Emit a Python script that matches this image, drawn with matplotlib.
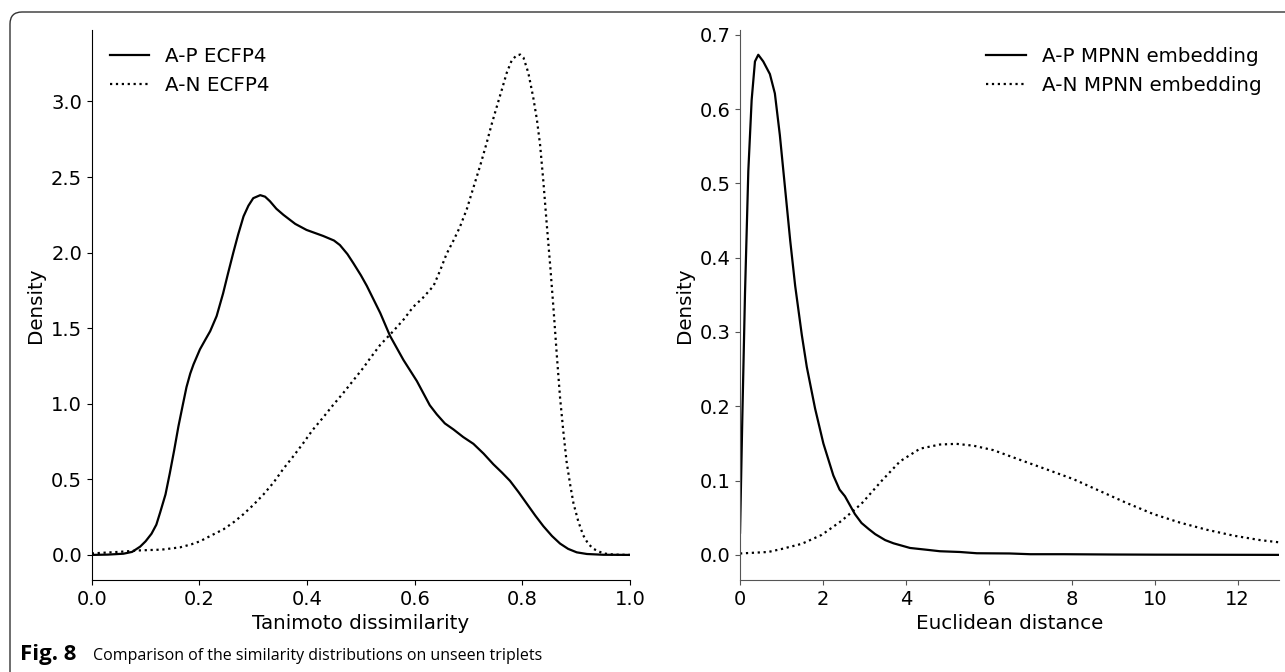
import numpy as np
import matplotlib
matplotlib.use('Agg')
import matplotlib.pyplot as plt
from matplotlib.patches import FancyBboxPatch

# Valores
# Panel izquierdo: disimilitud de Tanimoto (ECFP4)
tanimoto_ap_x = [0.0, 0.03, 0.059, 0.075, 0.09, 0.1, 0.111, 0.12, 0.127, 0.137, 0.145, 0.153,
                 0.161, 0.169, 0.176, 0.183, 0.189, 0.201, 0.212, 0.22, 0.232, 0.244, 0.253,
                 0.263, 0.272, 0.282, 0.291, 0.3, 0.313, 0.322, 0.331, 0.343, 0.356, 0.378,
                 0.399, 0.43, 0.45, 0.461, 0.475, 0.486, 0.5, 0.511, 0.536, 0.554, 0.579,
                 0.604, 0.628, 0.641, 0.656, 0.672, 0.69, 0.709, 0.728, 0.746, 0.762, 0.777,
                 0.793, 0.808, 0.824, 0.839, 0.855, 0.87, 0.885, 0.901, 0.92, 0.95, 1.0]
tanimoto_ap_y = [0.0, 0.002, 0.008, 0.02, 0.055, 0.09, 0.14, 0.2, 0.28, 0.4, 0.54, 0.69,
                 0.85, 0.99, 1.11, 1.2, 1.26, 1.36, 1.43, 1.48, 1.58, 1.73, 1.86,
                 2.0, 2.12, 2.24, 2.31, 2.36, 2.38, 2.37, 2.34, 2.29, 2.25, 2.19,
                 2.15, 2.11, 2.08, 2.05, 1.99, 1.93, 1.85, 1.78, 1.6, 1.45, 1.29,
                 1.15, 0.99, 0.93, 0.87, 0.83, 0.78, 0.735, 0.67, 0.6, 0.545, 0.49,
                 0.415, 0.34, 0.26, 0.19, 0.125, 0.075, 0.04, 0.017, 0.006, 0.001, 0.0]

tanimoto_an_x = [0.0, 0.05, 0.09, 0.13, 0.164, 0.185, 0.201, 0.22, 0.245, 0.265, 0.282, 0.3,
                 0.319, 0.338, 0.356, 0.375, 0.393, 0.41, 0.43, 0.448, 0.467, 0.486, 0.505,
                 0.517, 0.536, 0.56, 0.58, 0.597, 0.615, 0.635, 0.647, 0.659, 0.672, 0.684,
                 0.697, 0.709, 0.722, 0.734, 0.743, 0.752, 0.762, 0.771, 0.78, 0.789, 0.796,
                 0.802, 0.811, 0.82, 0.827, 0.833, 0.839, 0.845, 0.852, 0.858, 0.864, 0.87,
                 0.876, 0.882, 0.889, 0.895, 0.904, 0.913, 0.922, 0.932, 0.95, 0.97, 1.0]
tanimoto_an_y = [0.01, 0.02, 0.03, 0.035, 0.05, 0.07, 0.09, 0.125, 0.17, 0.22, 0.27, 0.33,
                 0.4, 0.48, 0.57, 0.655, 0.74, 0.825, 0.91, 0.99, 1.07, 1.155, 1.24,
                 1.3, 1.39, 1.48, 1.56, 1.64, 1.7, 1.78, 1.88, 1.99, 2.08, 2.17,
                 2.29, 2.43, 2.58, 2.73, 2.85, 2.96, 3.08, 3.19, 3.27, 3.305, 3.31,
                 3.29, 3.19, 3.03, 2.88, 2.71, 2.47, 2.2, 1.9, 1.62, 1.32, 1.04,
                 0.82, 0.62, 0.46, 0.34, 0.22, 0.13, 0.075, 0.04, 0.01, 0.002, 0.0]

# Panel derecho: distancia euclidea (MPNN)
euclid_ap_x = [0.0, 0.056, 0.12, 0.2, 0.28, 0.36, 0.44, 0.56, 0.72, 0.84, 0.96, 1.085, 1.21,
               1.33, 1.49, 1.61, 1.81, 2.01, 2.25, 2.4, 2.53, 2.77, 2.93, 3.1, 3.26, 3.5,
               3.7, 4.1, 4.5, 4.82, 5.3, 5.71, 6.5, 7.0, 7.8, 9.0, 10.0, 11.0, 12.0, 13.0]
euclid_ap_y = [0.03, 0.187, 0.352, 0.517, 0.612, 0.664, 0.673, 0.664, 0.647, 0.621, 0.565,
               0.494, 0.423, 0.362, 0.296, 0.253, 0.197, 0.15, 0.107, 0.088, 0.079, 0.055,
               0.043, 0.035, 0.028, 0.02, 0.0157, 0.0094, 0.007, 0.005, 0.004, 0.0023,
               0.002, 0.001, 0.001, 0.0006, 0.0004, 0.0003, 0.0002, 0.0001]

euclid_an_x = [0.0, 0.68, 1.0, 1.49, 1.97, 2.45, 2.93, 3.42, 3.86, 4.34, 4.82, 5.22, 5.63,
               6.11, 6.75, 7.4, 8.04, 8.68, 9.32, 9.97, 10.61, 11.25, 11.9, 12.54, 13.0]
euclid_an_y = [0.002, 0.004, 0.008, 0.015, 0.027, 0.046, 0.069, 0.1, 0.126, 0.143, 0.1486,
               0.1495, 0.147, 0.141, 0.128, 0.115, 0.102, 0.086, 0.07, 0.055, 0.0435, 0.034,
               0.026, 0.02, 0.017]

plt.rcParams['font.family'] = ['DejaVu Sans']
fs = 14.3      # etiquetas y leyenda
fs_tick = 14

fig = plt.figure(figsize=(12.85, 6.72), dpi=100)
ax1 = fig.add_axes([0.0714, 0.1369, 0.4189, 0.8192])
ax2 = fig.add_axes([0.5759, 0.1369, 0.4195, 0.8192])

# Panel izquierdo
ax1.plot(tanimoto_ap_x, tanimoto_ap_y, color='black', lw=1.6, ls='-', label='A-P ECFP4')
ax1.plot(tanimoto_an_x, tanimoto_an_y, color='black', lw=1.6, ls=':', label='A-N ECFP4')
ax1.set_xlim(0, 1)
ax1.set_ylim(-0.166, 3.476)
ax1.set_xticks([0.0, 0.2, 0.4, 0.6, 0.8, 1.0])
ax1.set_yticks([0.0, 0.5, 1.0, 1.5, 2.0, 2.5, 3.0])
ax1.set_xlabel('Tanimoto dissimilarity', fontsize=fs)
ax1.set_ylabel('Density', fontsize=fs)
ax1.legend(loc='upper left', frameon=False, fontsize=fs)

# Panel derecho
ax2.plot(euclid_ap_x, euclid_ap_y, color='black', lw=1.6, ls='-', label='A-P MPNN embedding')
ax2.plot(euclid_an_x, euclid_an_y, color='black', lw=1.6, ls=':', label='A-N MPNN embedding')
ax2.set_xlim(0, 13)
ax2.set_ylim(-0.0337, 0.707)
ax2.set_xticks([0, 2, 4, 6, 8, 10, 12])
ax2.set_yticks([0.0, 0.1, 0.2, 0.3, 0.4, 0.5, 0.6, 0.7])
ax2.set_xlabel('Euclidean distance', fontsize=fs)
ax2.set_ylabel('Density', fontsize=fs)
ax2.legend(loc='upper right', frameon=False, fontsize=fs)

for ax, col in [(ax1, 'black'), (ax2, '#555555')]:
    ax.spines['top'].set_visible(False)
    ax.spines['right'].set_visible(False)
    ax.spines['left'].set_color(col)
    ax.spines['bottom'].set_color(col)
    ax.tick_params(labelsize=fs_tick, color=col, labelcolor='black')

# Marco redondeado alrededor de la figura (en pixeles)
marco = FancyBboxPatch((10, -30), 1320, 690, boxstyle='round,pad=0,rounding_size=12',
                       transform=None, fill=False, edgecolor='#333333', lw=1.0)
fig.add_artist(marco)

# Pie de figura
y_pie = 12 / 672
fig.text(20 / 1285, y_pie, 'Fig. 8', fontsize=16, fontweight='bold',
         family=['Open Sans', 'DejaVu Sans'], va='baseline', ha='left')
fig.text(93 / 1285, y_pie, 'Comparison of the similarity distributions on unseen triplets',
         fontsize=11.5, family=['Open Sans', 'DejaVu Sans'], va='baseline', ha='left')

fig.savefig('out.png', dpi=100)
